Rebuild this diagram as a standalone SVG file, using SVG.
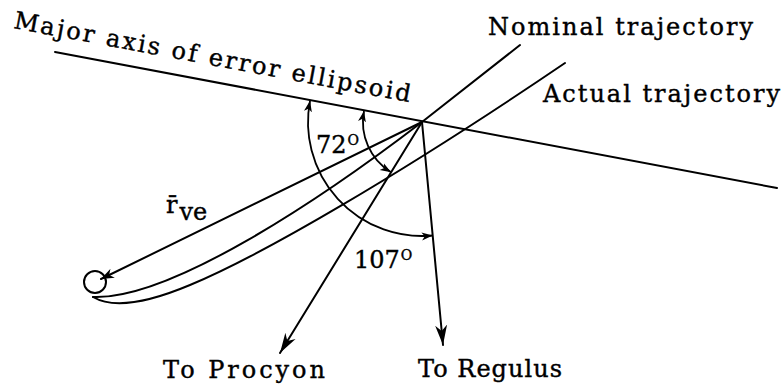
<svg xmlns="http://www.w3.org/2000/svg" width="783" height="388" viewBox="0 0 783 388">
  <style>
    .ln { fill: none; stroke: #000; stroke-width: 2; stroke-linecap: round; }
    .arc { fill: none; stroke: #000; stroke-width: 1.8; }
    .lbl { font-family: "DejaVu Serif", "Liberation Serif", serif; font-size: 24px; fill: #000; stroke: #000; stroke-width: 0.4; }
    .sup { font-size: 14px; }
  </style>
  <defs>
    <marker id="big" viewBox="0 0 22 14" refX="20" refY="7" markerWidth="22" markerHeight="14" markerUnits="userSpaceOnUse" orient="auto">
      <path d="M20,7 L0,1 L6,7 L0,13 Z" fill="#000"/>
    </marker>
    <marker id="mid" viewBox="0 0 14 12" refX="13" refY="6" markerWidth="14" markerHeight="12" markerUnits="userSpaceOnUse" orient="auto">
      <path d="M13,6 L0,1 L4,6 L0,11 Z" fill="#000"/>
    </marker>
    <marker id="sm" viewBox="0 0 12 10" refX="11" refY="5" markerWidth="12" markerHeight="10" markerUnits="userSpaceOnUse" orient="auto-start-reverse">
      <path d="M11,5 L0,1 L3,5 L0,9 Z" fill="#000"/>
    </marker>
  </defs>

  <g id="connectors">
    <line id="major-axis" class="ln" x1="55" y1="52" x2="777" y2="188"/>
    <path id="nominal" class="ln" d="M93,297 C170,300 320,200 422,122 L520,45"/>
    <path id="actual" class="ln" d="M93,297 C110,307 140,306 190,285 C260,256 400,175 565,63"/>
    <line id="rve" class="ln" x1="422" y1="122" x2="101" y2="279" marker-end="url(#mid)"/>
    <line id="procyon" class="ln" x1="422" y1="122" x2="280" y2="353" marker-end="url(#big)"/>
    <line id="regulus" class="ln" x1="422" y1="122" x2="443" y2="345" marker-end="url(#big)"/>
    <path id="arc72" class="arc" d="M364,111 A59,59 0 0 0 391.1,172.3" marker-start="url(#sm)" marker-end="url(#sm)"/>
    <path id="arc107" class="arc" d="M310,100.8 A114,114 0 0 0 432.7,235.5" marker-start="url(#sm)" marker-end="url(#sm)"/>
  </g>

  <g id="earth">
    <circle class="ln" cx="95" cy="282" r="11"/>
  </g>

  <g id="label-major-axis">
    <text class="lbl" x="13" y="28" textLength="403" lengthAdjust="spacing" transform="rotate(10.6 13 28)">Major axis of error ellipsoid</text>
  </g>
  <g id="label-nominal">
    <text class="lbl" x="488" y="35" textLength="265" lengthAdjust="spacing">Nominal trajectory</text>
  </g>
  <g id="label-actual">
    <text class="lbl" x="543" y="102" textLength="237" lengthAdjust="spacing">Actual trajectory</text>
  </g>
  <g id="label-rve">
    <text class="lbl" x="166" y="213">r̄<tspan dx="2" dy="7">ve</tspan></text>
  </g>
  <g id="label-72">
    <text class="lbl" x="316" y="153">72<tspan class="sup" dx="1" dy="-8">O</tspan></text>
  </g>
  <g id="label-107">
    <text class="lbl" x="354" y="268">107<tspan class="sup" dx="1" dy="-8">O</tspan></text>
  </g>
  <g id="label-procyon">
    <text class="lbl" x="163" y="378" textLength="162" lengthAdjust="spacing">To Procyon</text>
  </g>
  <g id="label-regulus">
    <text class="lbl" x="418" y="377" textLength="144" lengthAdjust="spacing">To Regulus</text>
  </g>
</svg>
